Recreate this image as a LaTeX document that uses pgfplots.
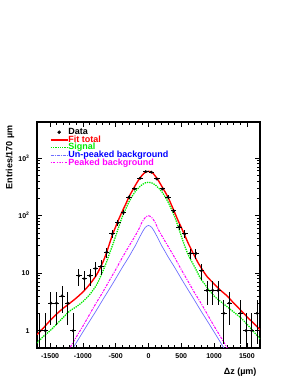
\documentclass[border=0pt]{standalone}
\usepackage{pgfplots}
\pgfplotsset{compat=1.18}
\usepackage{fontspec}
\setmainfont{Liberation Sans}
\definecolor{rootred}{RGB}{255,0,0}
\definecolor{rootgreen}{RGB}{0,235,0}
\definecolor{rootblue}{RGB}{110,110,255}
\definecolor{rootbluetxt}{RGB}{0,0,255}
\definecolor{rootmag}{RGB}{255,0,255}
\begin{document}
\begin{tikzpicture}
\path[use as bounding box] (0,0) rectangle (295pt,382pt);
\begin{axis}[
  at={(37pt,34pt)}, anchor=south west,
  width=223pt, height=226pt, scale only axis,
  xmin=-1700, xmax=1700, ymode=log, ymin=0.5, ymax=4200,
  xtick={-1500,-1000,-500,0,500,1000,1500},
  xticklabels={-1500,-1000,-500,0,500,1000,1500},
  minor x tick num=4,
  ytick={1,10,100,1000},
  yticklabels={1,10,{10\textsuperscript{2}},{10\textsuperscript{3}}},
  tick align=inside, tick pos=both,
  major tick length=5pt, minor tick length=2.8pt,
  every tick/.style={black, line width=0.6pt},
  axis line style={line width=1.2pt},
  ticklabel style={font=\bfseries\fontsize{7}{8}\selectfont},
  xticklabel style={anchor=base, yshift=-10.5pt},
  yticklabel style={xshift=-4pt},
  xlabel={Δz (µm)},
  ylabel={Entries/170 µm},
  every axis x label/.style={at={(axis description cs:1,-0.119)}, anchor=base east, font=\bfseries\fontsize{9}{10}\selectfont},
  every axis y label/.style={at={(axis description cs:-0.121,1)}, rotate=90, anchor=east, font=\bfseries\fontsize{9}{10}\selectfont},
  legend cell align=left,
  legend style={at={(0.058,0.972)}, anchor=north west, draw=none, fill=none,
    inner sep=0pt, outer sep=0pt, row sep=0pt,
    font=\bfseries\fontsize{9}{9}\selectfont,
    nodes={inner sep=0pt, text height=6pt, text depth=1.7pt},
    /tikz/every even column/.append style={column sep=5pt}},
]
\addlegendimage{only marks, mark=*, mark size=1.5pt, black}
\addlegendentry{Data}
\addlegendimage{rootred, line width=1.4pt}
\addlegendentry{\color{rootred}Fit total}
\addlegendimage{rootgreen, line width=1.3pt, densely dotted}
\addlegendentry{\color{rootgreen}Signal}
\addlegendimage{rootblue, line width=0.8pt, dash pattern=on 3pt off 1pt on 1pt off 1pt}
\addlegendentry{\color{rootbluetxt}Un-peaked background}
\addlegendimage{rootmag, line width=1pt, dash pattern=on 1pt off 1.2pt on 2.5pt off 1.2pt}
\addlegendentry{\color{rootmag}Peaked background}

% Un-peaked background
\addplot[forget plot, rootblue, line width=0.7pt, smooth] table {
x y
-1300 0.26
-1200 0.40
-1100 0.62
-1000 0.95
-900 1.45
-800 2.2
-700 3.4
-600 5.2
-500 8
-400 12.5
-300 19
-250 24
-200 30
-150 39
-100 50
-50 62
0 67
50 62
100 50
150 39
200 30
250 24
300 19
400 12.5
500 8
600 5.2
700 3.4
800 2.2
900 1.45
1000 0.95
1100 0.62
1200 0.40
1300 0.26
};
% Peaked background
\addplot[forget plot, rootmag, line width=1pt, dash pattern=on 1pt off 1.2pt on 2.5pt off 1.2pt, smooth] table {
x y
-1300 0.32
-1200 0.50
-1100 0.78
-1000 1.2
-900 1.9
-800 3.0
-700 4.6
-600 7.3
-500 11.5
-400 18.5
-300 29
-250 36
-200 45
-150 57
-100 76
-50 92
0 99
50 92
100 76
150 57
200 45
250 36
300 29
400 18.5
500 11.5
600 7.3
700 4.6
800 3.0
900 1.9
1000 1.2
1100 0.78
1200 0.50
1300 0.32
};
% Signal
\addplot[forget plot, rootgreen, line width=1.3pt, densely dotted, smooth] table {
x y
-1700 0.61
-1600 0.8
-1500 1.0
-1400 1.3
-1300 1.7
-1200 2.2
-1100 2.6
-1000 3.2
-900 4.2
-800 6.0
-750 7.8
-700 10.5
-650 14.5
-600 21
-550 30
-500 44
-450 65
-400 95
-350 128
-300 170
-250 215
-200 262
-150 303
-100 342
-50 368
0 378
50 368
100 342
150 303
200 262
250 215
300 170
350 128
400 95
450 65
500 44
550 30
600 21.5
650 16.5
700 13
750 10
800 7.8
850 6.6
900 5.5
1000 4.0
1100 3.2
1200 2.6
1300 2.1
1400 1.7
1500 1.3
1600 0.97
1700 0.72
};
% Fit total
\addplot[forget plot, rootred, line width=1.4pt, smooth] table {
x y
-1700 0.85
-1600 1.12
-1500 1.5
-1400 1.95
-1300 2.45
-1200 3.0
-1100 3.7
-1000 4.7
-900 6.3
-800 9.0
-750 11.5
-700 15
-650 21
-600 31
-550 46
-500 64
-450 88
-400 118
-350 155
-300 208
-250 265
-200 335
-150 415
-100 495
-50 565
0 585
50 565
100 490
150 405
200 325
250 260
300 205
350 152
400 112
450 82
500 62
550 46
600 34
650 26
700 20
750 15.5
800 12.5
850 10.2
900 8.5
1000 6.5
1100 5.0
1200 4.0
1300 3.0
1400 2.3
1500 1.75
1600 1.35
1700 1.04
};
% Data
\addplot[forget plot, black, only marks, mark=*, mark size=1.3pt,
  error bars/.cd, x dir=both, x fixed=42.5, y dir=both, y explicit,
  error bar style={line width=0.9pt, black}, error mark=none]
  table[x=x, y=y, y error plus=ep, y error minus=em] {
x y ep em
-1657.5 1 1 0.99
-1572.5 1 1 0.99
-1487.5 3 1.73 1.73
-1402.5 3 1.73 1.73
-1317.5 4 2 2
-1232.5 3 1.73 1.73
-1147.5 1 1 0.99
-1062.5 9 3 3
-977.5 8 2.83 2.83
-892.5 9 3 3
-807.5 12 3.46 3.46
-722.5 13 3.61 3.61
-637.5 23 4.80 4.80
-552.5 48 6.93 6.93
-467.5 75 8.66 8.66
-382.5 112 10.58 10.58
-297.5 208 14.42 14.42
-212.5 289 17 17
-127.5 443 21.05 21.05
-42.5 577 24.02 24.02
42.5 566 23.79 23.79
127.5 431 20.76 20.76
212.5 289 17 17
297.5 208 14.42 14.42
382.5 120 10.95 10.95
467.5 63 7.94 7.94
552.5 48 6.93 6.93
637.5 22 4.69 4.69
722.5 22 4.69 4.69
807.5 11 3.32 3.32
892.5 5 2.24 2.24
977.5 5 2.24 2.24
1062.5 5 2.24 2.24
1147.5 2 1.41 1.41
1232.5 3 1.73 1.73
1402.5 2 1.41 1.41
1487.5 1 1 0.99
1572.5 1 1 0.99
1657.5 2 1.41 1.41
};
\end{axis}
\end{tikzpicture}
\end{document}
